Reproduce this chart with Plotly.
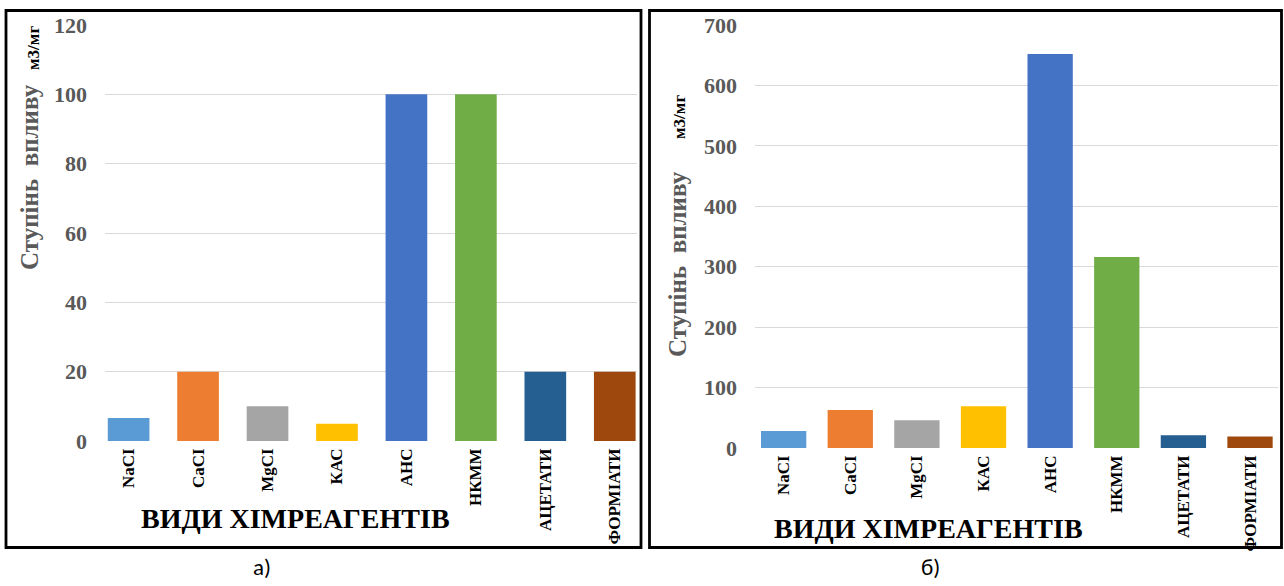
import plotly.graph_objects as go

W, H = 1284, 586

# Reagent categories and bar colours
categories = ["NaCI", "CaCI", "MgCI", "КАС", "АНС", "НКММ", "АЦЕТАТИ", "ФОРМІАТИ"]
colors = ["#5B9BD5", "#ED7D31", "#A5A5A5", "#FFC000",
          "#4472C4", "#70AD47", "#255E91", "#9E480E"]

# Panel а) values
values_a = [6.6, 20, 10, 5, 100, 100, 20, 20]
# Panel б) values
values_b = [28, 63, 46, 69, 652, 316, 21, 19]

yticks_a = [0, 20, 40, 60, 80, 100, 120]
yticks_b = [0, 100, 200, 300, 400, 500, 600, 700]

SERIF = "Liberation Serif, Times New Roman, serif"
GRAY = "#595959"


def px(x):
    return x / W


def py(y):
    return 1 - y / H


fig = go.Figure()
fig.add_trace(go.Bar(x=categories, y=values_a, marker=dict(color=colors, line=dict(width=0)),
                     width=0.6, xaxis="x", yaxis="y", showlegend=False))
fig.add_trace(go.Bar(x=categories, y=values_b, marker=dict(color=colors, line=dict(width=0)),
                     width=0.68, xaxis="x2", yaxis="y2", showlegend=False))

xcommon = dict(
    type="category", showgrid=False, zeroline=False, showline=False, automargin=False,
    tickangle=-90, ticks="", ticklabelstandoff=3,
    tickfont=dict(family=SERIF, size=17, color="black", weight="bold"),
)
ycommon = dict(
    showgrid=True, gridcolor="#D9D9D9", gridwidth=1, zeroline=False, showline=False,
    automargin=False, ticks="", ticklabelstandoff=17,
    tickfont=dict(family=SERIF, size=22, color=GRAY, weight="bold"),
)

fig.update_layout(
    width=W, height=H,
    margin=dict(l=0, r=0, t=0, b=0, pad=0, autoexpand=False),
    paper_bgcolor="white", plot_bgcolor="white",
    showlegend=False,
    bargap=0.4,
    xaxis=dict(domain=[px(105), px(637)], range=[-0.34, 7.32], anchor="y", **xcommon),
    yaxis=dict(domain=[py(441), py(25)], range=[0, 120], tickvals=yticks_a, anchor="x", **ycommon),
    xaxis2=dict(domain=[px(755), px(1278)], range=[-0.43, 7.42], anchor="y2", **xcommon),
    yaxis2=dict(domain=[py(448), py(25)], range=[0, 700], tickvals=yticks_b, anchor="x2", **ycommon),
)

# Black frames around both panels
for x0, x1 in [(6, 641), (649.5, 1281.5)]:
    fig.add_shape(type="rect", xref="paper", yref="paper",
                  x0=px(x0), x1=px(x1), y0=py(547.5), y1=py(10.5),
                  line=dict(color="black", width=2.8), fillcolor="rgba(0,0,0,0)", layer="above")

annotations = []
# Axis titles (y): main text and units
for xc, yc, xu, yu in [(30, 177, 33, 48), (677, 264, 680, 117)]:
    annotations.append(dict(
        text="Ступінь\u00a0\u00a0впливу", x=px(xc), y=py(yc), xref="paper", yref="paper",
        showarrow=False, textangle=-90, xanchor="center", yanchor="middle",
        font=dict(family=SERIF, size=25, color=GRAY, weight="bold")))
    annotations.append(dict(
        text="м3/мг", x=px(xu), y=py(yu), xref="paper", yref="paper",
        showarrow=False, textangle=-90, xanchor="center", yanchor="middle",
        font=dict(family=SERIF, size=17, color="black", weight="bold")))

# Axis titles (x)
for xc, yc in [(295, 518), (928, 528)]:
    annotations.append(dict(
        text="ВИДИ ХІМРЕАГЕНТІВ", x=px(xc), y=py(yc), xref="paper", yref="paper",
        showarrow=False, xanchor="center", yanchor="middle",
        font=dict(family=SERIF, size=28, color="black", weight="bold")))

# Panel captions
for text, xc in [("а)", 262), ("б)", 930)]:
    annotations.append(dict(
        text=text, x=px(xc), y=py(567), xref="paper", yref="paper",
        showarrow=False, xanchor="center", yanchor="middle",
        font=dict(family="Carlito, Lato, Open Sans, sans-serif", size=23, color="black")))

fig.update_layout(annotations=annotations)

fig.write_html("out.html")
